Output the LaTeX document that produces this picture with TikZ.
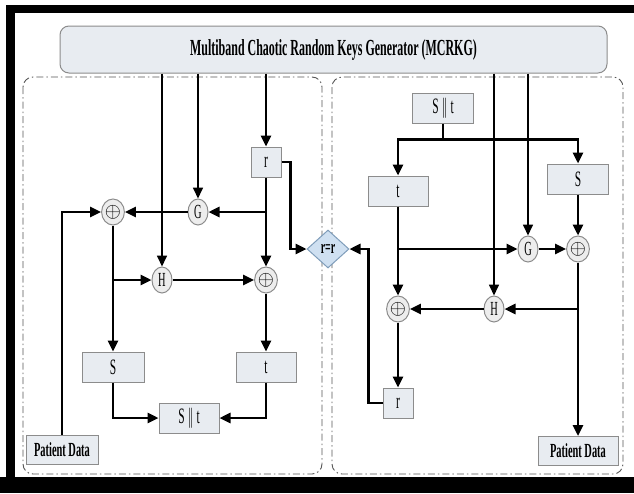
\documentclass[tikz,border=0pt]{standalone}
\usepackage{fontspec}
\setmainfont{Liberation Serif}
\newfontfamily\narrowfont{Liberation Serif}[FakeStretch=0.52]
\usetikzlibrary{arrows.meta,shapes.geometric}

\definecolor{boxfill}{HTML}{E8ECF1}
\definecolor{boxline}{HTML}{8C8C8C}
\definecolor{opfill}{HTML}{EDEDED}
\definecolor{cmpfill}{HTML}{CFE0F1}
\definecolor{cmpline}{HTML}{7F9DBA}
\definecolor{zoneline}{HTML}{555555}

\tikzset{
  keybox/.style={draw=boxline, fill=boxfill, line width=1pt, minimum height=30pt, inner sep=0pt,
    font=\narrowfont\fontsize{22}{22}\selectfont},
  pdbox/.style={keybox, minimum width=72pt, minimum height=29pt,
    font=\narrowfont\bfseries\fontsize{20}{20}\selectfont},
  opnode/.style={ellipse, draw=boxline, fill=opfill, line width=1pt, minimum width=20pt,
    minimum height=26pt, inner sep=0pt, font=\narrowfont\fontsize{20}{20}\selectfont},
  flow/.style={line width=2.6pt, -{Triangle[length=11pt,width=10pt]}},
  feed/.style={line width=1.7pt, -{Triangle[length=11pt,width=10pt]}},
  zone/.style={draw=zoneline, line width=0.9pt, dash pattern=on 7pt off 3pt on 1.5pt off 3pt,
    rounded corners=10pt},
}

\begin{document}
\begin{tikzpicture}[x=1pt, y=-1pt]
    \useasboundingbox (0,0) rectangle (634,493);
    % 外枠（黒い帯）
    \fill[black] (6,5) rectangle (634,13);
    \fill[black] (6,5) rectangle (15,493);
    \fill[black] (0,477) rectangle (634,493);

    % 左右の領域
    \draw[zone] (23,77) rectangle (322,474);
    \draw[zone] (332,77) rectangle (623,474);

    % 鍵生成器
    \node[draw=boxline, fill=boxfill, rounded corners=9pt, line width=1pt,
          minimum width=547pt, minimum height=47pt] (mcrkg) at (333.5,49.5)
          {\narrowfont\bfseries\fontsize{23}{23}\selectfont Multiband Chaotic Random Keys Generator (MCRKG)};

    % 左側のノード
    \node[keybox, minimum width=30pt] (rL) at (266,162) {r};
    \node[opnode] (gL) at (198,212) {G};
    \node[opnode] (xL1) at (113,212) {$\oplus$};
    \node[opnode] (hL) at (162,280) {H};
    \node[opnode] (xL2) at (266,280) {$\oplus$};
    \node[keybox, minimum width=62pt] (sL) at (113,367) {S};
    \node[keybox, minimum width=60pt] (tL) at (266,367) {t};
    \node[keybox, minimum width=60pt] (stL) at (189,418) {S\,||\,t};
    \node[pdbox] (pdL) at (62,450) {Patient Data};

    % 比較
    \node[diamond, draw=cmpline, fill=cmpfill, line width=1pt, minimum width=42pt,
          minimum height=38pt, inner sep=0pt, font=\narrowfont\bfseries\fontsize{19}{19}\selectfont] (cmp) at (328,249) {r=r};

    % 右側のノード
    \node[keybox, minimum width=61pt] (stR) at (443,108) {S\,||\,t};
    \node[keybox, minimum width=60pt] (tR) at (398,191) {t};
    \node[keybox, minimum width=61pt] (sR) at (578,179) {S};
    \node[opnode] (gR) at (528,249) {G};
    \node[opnode] (xR1) at (578,249) {$\oplus$};
    \node[opnode] (hR) at (494,309) {H};
    \node[opnode] (xR2) at (398,309) {$\oplus$};
    \node[keybox, minimum width=30pt] (rR) at (398,403) {r};
    \node[pdbox, minimum width=80pt] (pdR) at (578,451) {Patient Data};

    % 左側の接続
    \draw[feed] (mcrkg.south -| hL) -- (hL);
    \draw[feed] (mcrkg.south -| gL) -- (gL);
    \draw[flow] (mcrkg.south -| rL) -- (rL);
    \draw[flow] (rL) -- (xL2);
    \draw[flow] (rL |- gL) -- (gL);
    \draw[flow] (gL) -- (xL1);
    \draw[flow] (pdL.north) |- (xL1);
    \draw[flow] (xL1) -- (sL);
    \draw[flow] (xL1 |- hL) -- (hL);
    \draw[flow] (hL) -- (xL2);
    \draw[flow] (xL2) -- (tL);
    \draw[flow] (sL) |- (stL);
    \draw[flow] (tL) |- (stL);
    \draw[flow] (rL.east) -- ++(9,0) |- (cmp.west);

    % 右側の接続
    \draw[flow] (stR.south) -- ++(0,16) -| (tR);
    \draw[flow] (stR.south) ++(0,16) -| (sR);
    \draw[feed] (mcrkg.south -| hR) -- (hR);
    \draw[feed] (mcrkg.south -| gR) -- (gR);
    \draw[flow] (sR) -- (xR1);
    \draw[flow] (tR) -- (xR2);
    \draw[flow] (tR |- gR) -- (gR);
    \draw[flow] (gR) -- (xR1);
    \draw[flow] (xR1) -- (pdR);
    \draw[flow] (xR1 |- hR) -- (hR);
    \draw[flow] (hR) -- (xR2);
    \draw[flow] (xR2) -- (rR);
    \draw[flow] (rR.west) -- ++(-14,0) |- (cmp.east);
\end{tikzpicture}
\end{document}
